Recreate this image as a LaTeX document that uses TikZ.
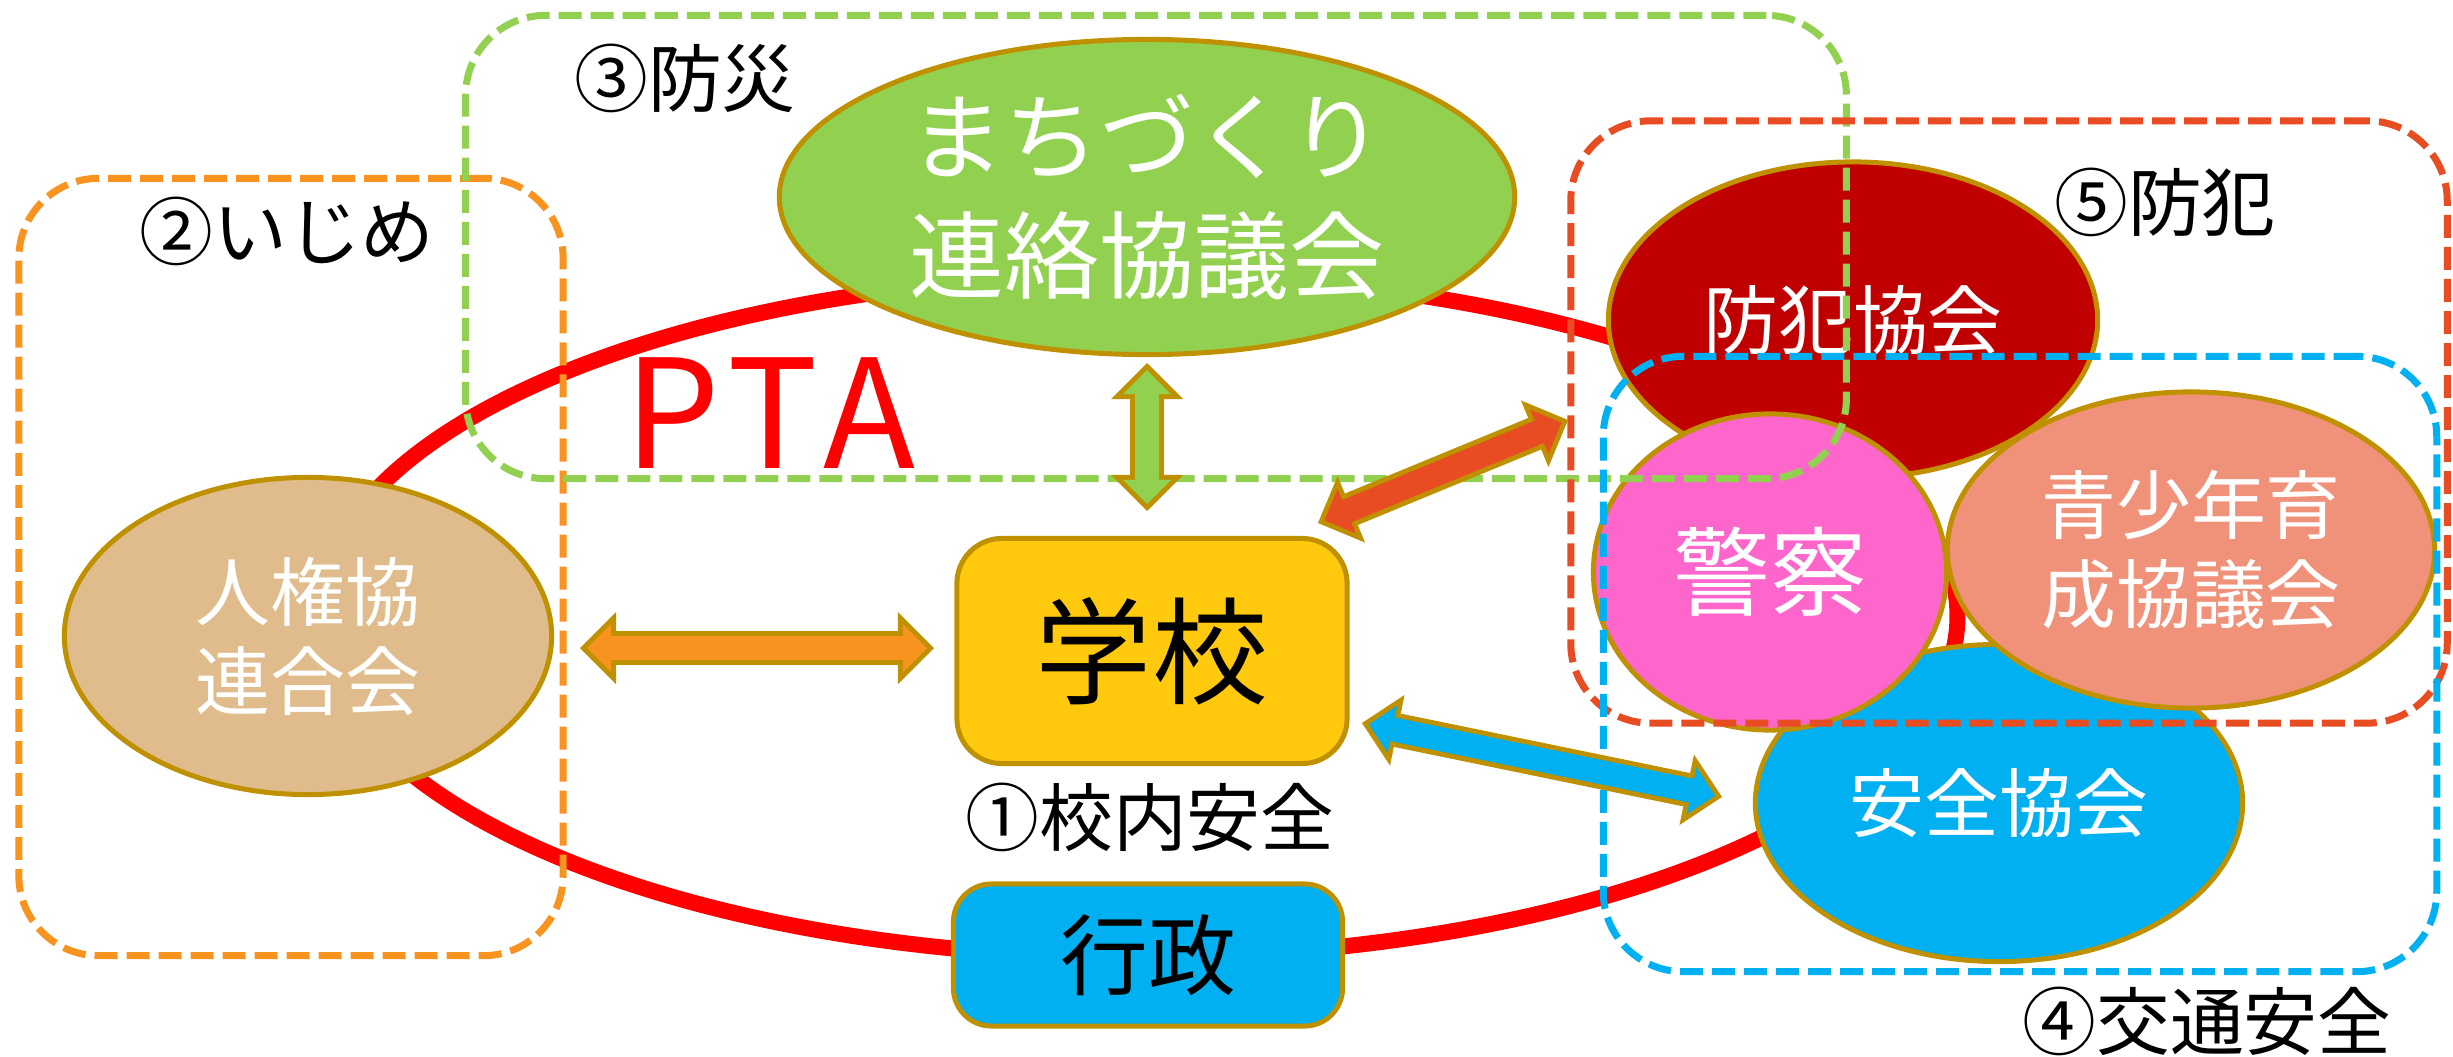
\documentclass[tikz,border=0pt]{standalone}
\usepackage{fontspec}
\setmainfont{Noto Sans CJK JP}
\usetikzlibrary{shapes.geometric,arrows.meta}
\definecolor{cgold}{HTML}{BF9000}
\definecolor{cgreen}{HTML}{92D050}
\definecolor{ctan}{HTML}{E0BB8B}
\definecolor{cyel}{HTML}{FFC90E}
\definecolor{cblue}{HTML}{00B0F0}
\definecolor{cdred}{HTML}{C00000}
\definecolor{cpink}{HTML}{FF66CC}
\definecolor{csalmon}{HTML}{F0917A}
\definecolor{corange}{HTML}{F7931E}
\definecolor{credor}{HTML}{E84C22}
\definecolor{cred}{HTML}{FF0000}
\newcommand\myblockarr[3]{%
  \draw[arrout] (#2) -- (#3);
  \draw[arrin, color=#1] (#2) -- (#3);}
\tikzset{
  org/.style={ellipse, draw=cgold, line width=0.05cm, inner sep=0pt, text=white, align=center,
    font=\fontsize{21.3pt}{25.3pt}\selectfont},
  boxnode/.style={rectangle, draw=cgold, line width=0.05cm, inner sep=0pt, text=black},
  grp/.style={rectangle, line width=0.07cm, dash pattern=on 0.23cm off 0.09cm, rounded corners=0.8cm, inner sep=0pt},
  lbl/.style={inner sep=0pt, text=black, font=\fontsize{21pt}{25pt}\selectfont},
  arrout/.style={color=cgold, line width=0.34cm,
    arrows={Triangle[width=0.72cm,length=0.36cm,line width=0pt]-Triangle[width=0.72cm,length=0.36cm,line width=0pt]}},
  arrin/.style={line width=0.24cm, shorten <=0.07cm, shorten >=0.07cm,
    arrows={Triangle[width=0.48cm,length=0.24cm,line width=0pt]-Triangle[width=0.48cm,length=0.24cm,line width=0pt]}}
}
\begin{document}
\begin{tikzpicture}[x=0.01cm, y=-0.01cm]
\useasboundingbox (0,0) rectangle (2453,1057);

% PTA ring
\node[ellipse, draw=cred, line width=0.16cm, inner sep=0pt, minimum width=16.38cm, minimum height=6.82cm] (ring) at (1138,616) {};
\node[inner sep=0pt, text=cred, font=\fontsize{43pt}{43pt}\selectfont\addfontfeature{LetterSpace=8}] (pta) at (770,413) {PTA};

% organisations
\node[org, fill=cgreen, minimum width=7.35cm, minimum height=3.15cm, font=\fontsize{27pt}{34pt}\selectfont] (machi) at (1147,197) {まちづくり\\連絡協議会};
\node[org, fill=ctan, minimum width=4.87cm, minimum height=3.17cm] (jinken) at (308,636) {人権協\\連合会};
\node[org, fill=cdred, minimum width=4.89cm, minimum height=3.16cm] (bohan) at (1853,320) {防犯協会};
\node[org, fill=cblue, minimum width=4.87cm, minimum height=3.17cm] (anzen) at (1999,803) {安全協会};
\node[org, fill=cpink, minimum width=3.53cm, minimum height=3.16cm, font=\fontsize{27.5pt}{30pt}\selectfont] (keisatsu) at (1770,572) {警察};
\node[org, fill=csalmon, minimum width=4.87cm, minimum height=3.16cm] (seisho) at (2191,550) {青少年育\\成協議会};

\node[boxnode, fill=cyel, minimum width=3.90cm, minimum height=2.25cm, rounded corners=0.45cm, font=\fontsize{33pt}{33pt}\selectfont] (gakko) at (1152,651) {学校};
\node[boxnode, fill=cblue, minimum width=3.89cm, minimum height=1.42cm, rounded corners=0.38cm, font=\fontsize{25pt}{25pt}\selectfont] (gyosei) at (1148,955) {行政};

% group boxes
\node[grp, draw=corange, minimum width=5.44cm, minimum height=7.77cm] (g2) at (291,567) {};
\node[grp, draw=cgreen, minimum width=13.80cm, minimum height=4.63cm] (g3) at (1156,247) {};
\node[grp, draw=credor, minimum width=8.76cm, minimum height=6.02cm] (g5) at (2009,422) {};
\node[grp, draw=cblue, minimum width=8.33cm, minimum height=6.15cm] (g4) at (2020,664) {};

% labels
\node[lbl] (l2) at (287,231) {②いじめ};
\node[lbl] (l3) at (685,78) {③防災};
\node[lbl] (l5) at (2165,202) {⑤防犯};
\node[lbl] (l4) at (2207,1021) {④交通安全};
\node[lbl] (l1) at (1150,817) {①校内安全};

% arrows
\coordinate (gA) at (1147,363); \coordinate (gB) at (1147,511);
\coordinate (oA) at (580,648);  \coordinate (oB) at (934,648);
\coordinate (rA) at (1318,523); \coordinate (rB) at (1568,420);
\coordinate (bA) at (1362,723); \coordinate (bB) at (1722,797);
\myblockarr{cgreen}{gA}{gB}
\myblockarr{corange}{oA}{oB}
\myblockarr{credor}{rA}{rB}
\myblockarr{cblue}{bA}{bB}
\end{tikzpicture}
\end{document}
